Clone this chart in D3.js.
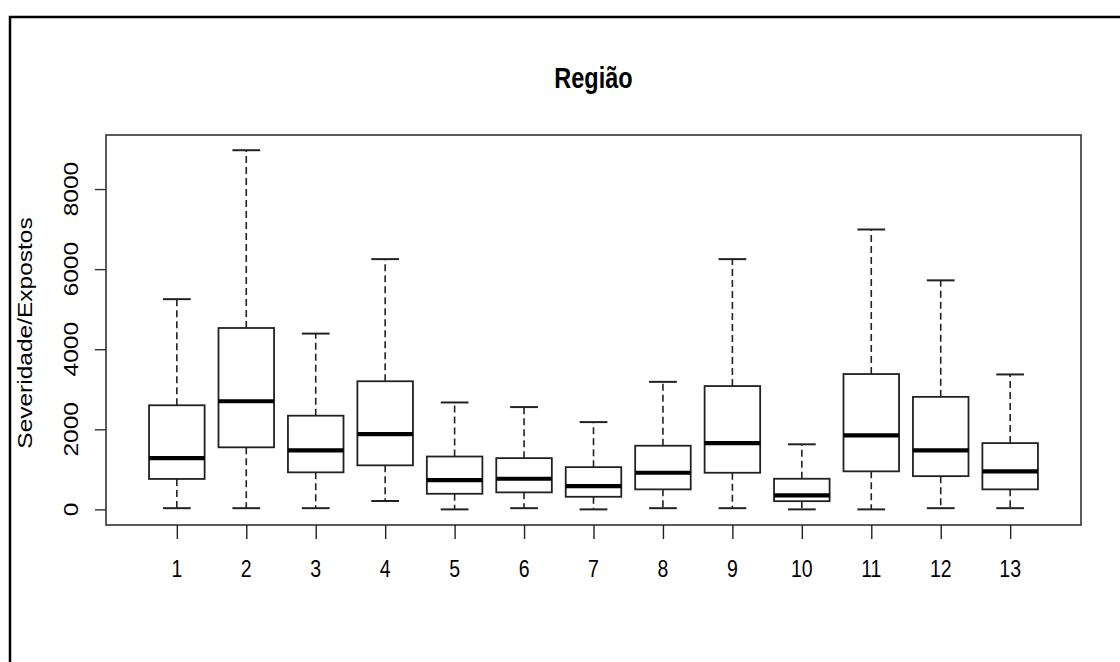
<!DOCTYPE html>
<html>
<head>
<meta charset="utf-8">
<script src="https://cdn.jsdelivr.net/npm/d3@7"></script>
<style>
  html, body { margin: 0; padding: 0; background: #fff; }
  svg { display: block; }
  text { font-family: "Liberation Sans", Arial, sans-serif; fill: #000; }
</style>
</head>
<body>
<svg id="chart" width="1120" height="662"></svg>
<script>
// ---- data ----
const categories = ["1","2","3","4","5","6","7","8","9","10","11","12","13"];
const whiskerLow  = [30, 30, 30, 210, 0, 30, 0, 30, 30, 0, 0, 30, 30];
const q1          = [760, 1550, 925, 1100, 390, 425, 315, 500, 915, 205, 950, 830, 500];
const medians     = [1280, 2700, 1475, 1880, 730, 765, 580, 915, 1655, 350, 1850, 1475, 950];
const q3          = [2600, 4530, 2340, 3200, 1320, 1280, 1055, 1590, 3080, 765, 3380, 2810, 1655];
const whiskerHigh = [5250, 8970, 4390, 6250, 2670, 2555, 2180, 3185, 6250, 1625, 6990, 5720, 3370];
const yTicks = [0, 2000, 4000, 6000, 8000];
const title = "Região";
const yTitle = "Severidade/Expostos";

// ---- layout ----
const plot = { left: 106, right: 1081, top: 135, bottom: 525 };
const sy = 1.25; // vertical stretch of the reference's text

const svg = d3.select("#chart");

// outer frame (continues past right/bottom edges)
svg.append("rect")
  .attr("x", 10).attr("y", 17)
  .attr("width", 1200).attr("height", 800)
  .attr("fill", "none").attr("stroke", "#000").attr("stroke-width", 2.5);

const n = categories.length;
const x = d3.scaleLinear().domain([1 - 0.5 - 0.04 * n, n + 0.5 + 0.04 * n]).range([plot.left, plot.right]);
const y = d3.scaleLinear().domain([-390, 9350]).range([plot.bottom, plot.top]);

const boxW = 0.8, capW = 0.4;
const data = categories.map((c, i) => ({
  c, i: i + 1, lo: whiskerLow[i], q1: q1[i], med: medians[i], q3: q3[i], hi: whiskerHigh[i]
}));

const g = svg.append("g");
const lineColor = "#222";

const boxes = g.selectAll("g.box").data(data).join("g").attr("class", "box");

// whiskers (dashed)
boxes.append("line")
  .attr("x1", d => x(d.i)).attr("x2", d => x(d.i))
  .attr("y1", d => y(d.q3)).attr("y2", d => y(d.hi))
  .attr("stroke", lineColor).attr("stroke-width", 1.6).attr("stroke-dasharray", "7,4");
boxes.append("line")
  .attr("x1", d => x(d.i)).attr("x2", d => x(d.i))
  .attr("y1", d => y(d.q1)).attr("y2", d => y(d.lo))
  .attr("stroke", lineColor).attr("stroke-width", 1.6).attr("stroke-dasharray", "7,4");
// caps
boxes.append("line")
  .attr("x1", d => x(d.i - capW / 2)).attr("x2", d => x(d.i + capW / 2))
  .attr("y1", d => y(d.hi)).attr("y2", d => y(d.hi))
  .attr("stroke", lineColor).attr("stroke-width", 2);
boxes.append("line")
  .attr("x1", d => x(d.i - capW / 2)).attr("x2", d => x(d.i + capW / 2))
  .attr("y1", d => y(d.lo)).attr("y2", d => y(d.lo))
  .attr("stroke", lineColor).attr("stroke-width", 2);
// box
boxes.append("rect")
  .attr("x", d => x(d.i - boxW / 2))
  .attr("width", d => x(d.i + boxW / 2) - x(d.i - boxW / 2))
  .attr("y", d => y(d.q3))
  .attr("height", d => y(d.q1) - y(d.q3))
  .attr("fill", "#fff").attr("stroke", lineColor).attr("stroke-width", 1.8);
// median
boxes.append("line")
  .attr("x1", d => x(d.i - boxW / 2)).attr("x2", d => x(d.i + boxW / 2))
  .attr("y1", d => y(d.med)).attr("y2", d => y(d.med))
  .attr("stroke", "#000").attr("stroke-width", 4.2);

// plot frame
svg.append("rect")
  .attr("x", plot.left).attr("y", plot.top)
  .attr("width", plot.right - plot.left).attr("height", plot.bottom - plot.top)
  .attr("fill", "none").attr("stroke", "#333").attr("stroke-width", 1.6);

// y axis ticks
const yAxis = d3.axisLeft(y).tickValues(yTicks).tickSize(11).tickFormat("");
const ya = svg.append("g").attr("transform", `translate(${plot.left},0)`).call(yAxis);
ya.select(".domain").remove();
ya.selectAll(".tick line").attr("stroke", "#333").attr("stroke-width", 1.4);

// y tick labels (rotated, stretched along their length)
svg.selectAll("text.ylab").data(yTicks).join("text")
  .attr("class", "ylab")
  .attr("transform", d => `translate(78,${y(d)}) rotate(-90) scale(${sy},1)`)
  .attr("text-anchor", "middle")
  .attr("font-size", 19.6)
  .text(d => d);

// x axis ticks
const xAxis = d3.axisBottom(x).tickValues(data.map(d => d.i)).tickSize(14).tickFormat("");
const xa = svg.append("g").attr("transform", `translate(0,${plot.bottom})`).call(xAxis);
xa.select(".domain").remove();
xa.selectAll(".tick line").attr("stroke", "#222").attr("stroke-width", 1.4);

// x tick labels
svg.selectAll("text.xlab").data(data).join("text")
  .attr("class", "xlab")
  .attr("transform", d => `translate(${x(d.i)},577) scale(1,${sy})`)
  .attr("text-anchor", "middle")
  .attr("font-size", 19.5)
  .text(d => d.c);

// y axis title
svg.append("text")
  .attr("transform", `translate(32,${(plot.top + plot.bottom) / 2 + 3}) rotate(-90) scale(${sy},1)`)
  .attr("text-anchor", "middle")
  .attr("font-size", 19.6)
  .text(yTitle);

// title
svg.append("text")
  .attr("transform", `translate(${(plot.left + plot.right) / 2},88) scale(1,${sy})`)
  .attr("text-anchor", "middle")
  .attr("font-size", 23.5)
  .attr("font-weight", "bold")
  .text(title);
</script>
</body>
</html>
